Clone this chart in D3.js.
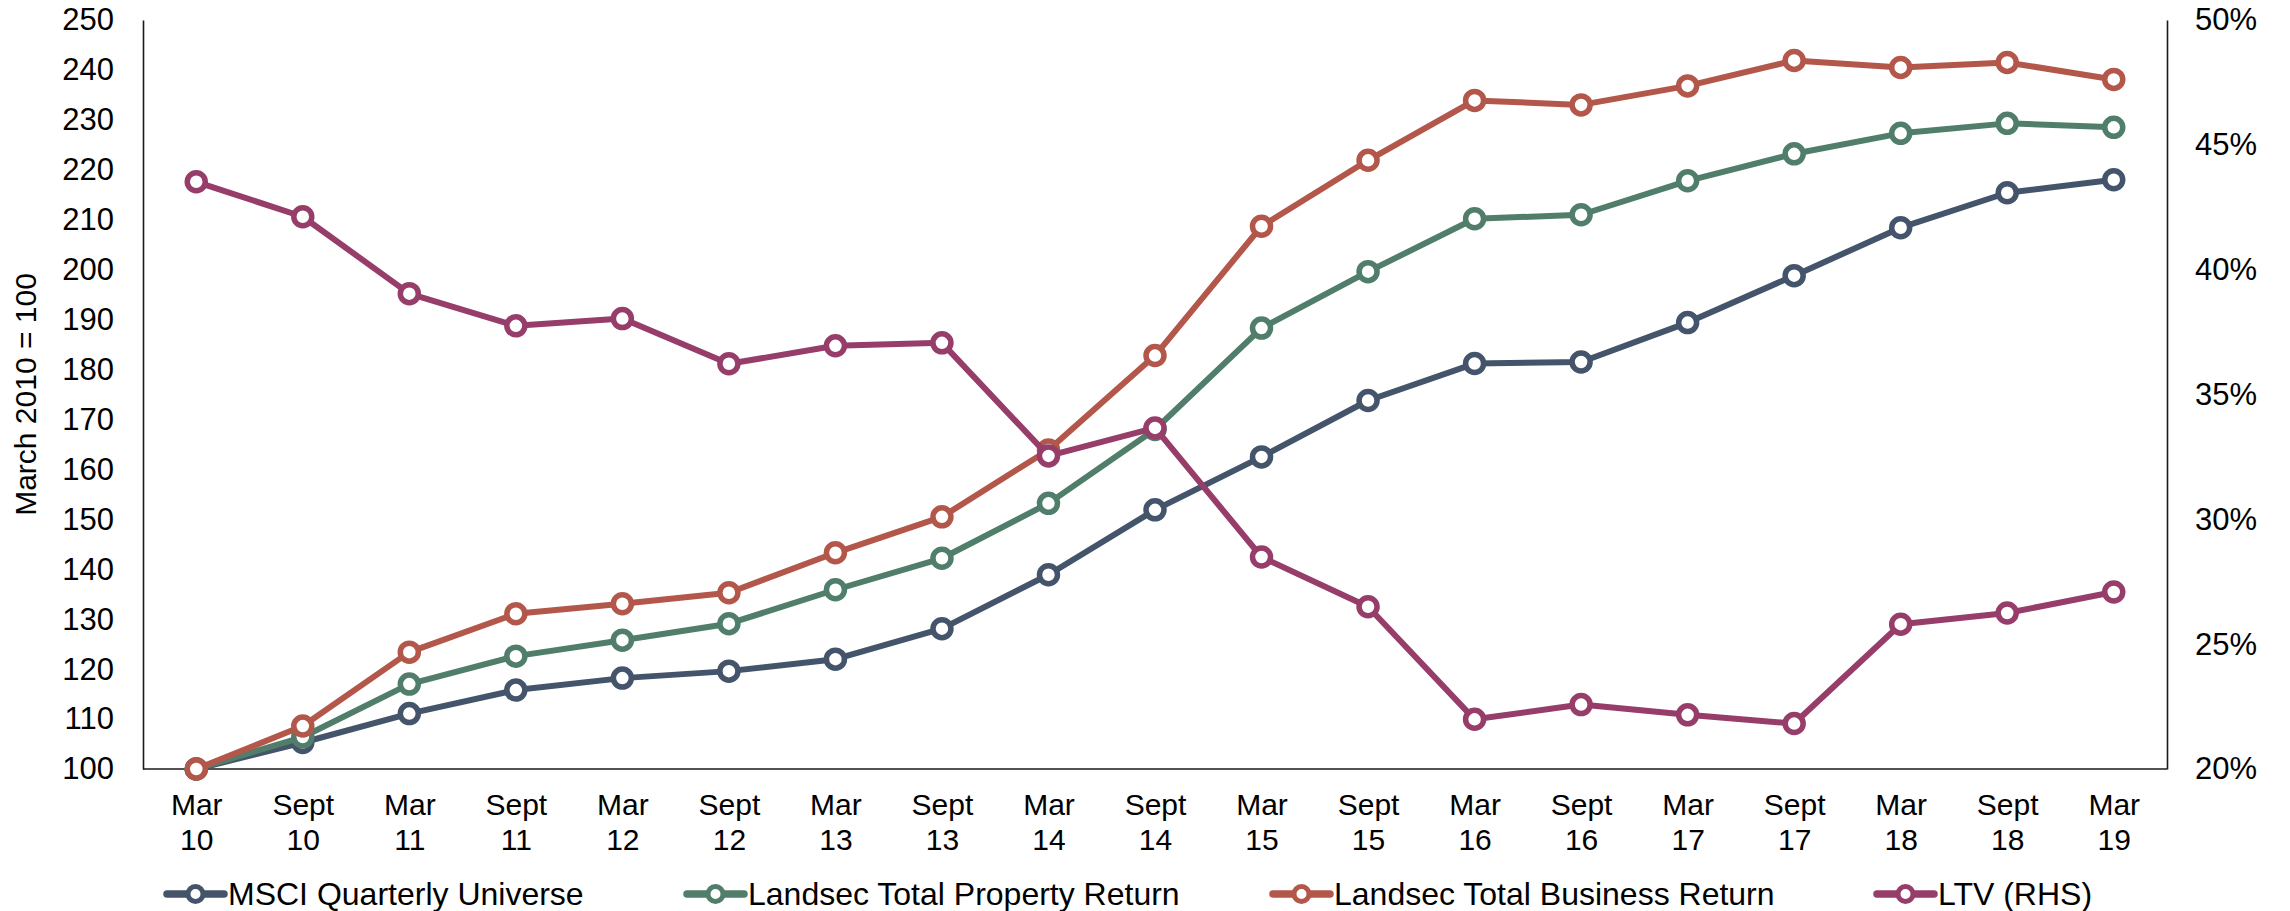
<!DOCTYPE html>
<html>
<head>
<meta charset="utf-8">
<script src="https://cdn.jsdelivr.net/npm/d3@7"></script>
<style>
  html, body { margin: 0; padding: 0; background: #fff; }
  svg { display: block; font-family: "Liberation Sans", Arial, sans-serif; }
</style>
</head>
<body>
<svg id="chart" width="2290" height="911"></svg>
<script>
// Half-yearly periods, March 2010 to March 2019
const periods = ["Mar 10","Sept 10","Mar 11","Sept 11","Mar 12","Sept 12","Mar 13","Sept 13","Mar 14",
  "Sept 14","Mar 15","Sept 15","Mar 16","Sept 16","Mar 17","Sept 17","Mar 18","Sept 18","Mar 19"];

// Index values (March 2010 = 100)
const msciUniverse = [100, 105.3, 111.1, 115.8, 118.2, 119.6, 122.0, 128.1, 138.9, 151.9,
  162.5, 173.8, 181.2, 181.5, 189.4, 198.8, 208.4, 215.4, 218.0];
const totalPropertyReturn = [100, 106.4, 117.0, 122.6, 125.8, 129.1, 135.9, 142.2, 153.2, 168.0,
  188.3, 199.6, 210.2, 211.0, 217.8, 223.2, 227.3, 229.3, 228.5];
const totalBusinessReturn = [100, 108.6, 123.4, 131.1, 133.1, 135.3, 143.3, 150.5, 163.9, 182.8,
  208.7, 221.9, 233.9, 233.0, 236.8, 241.9, 240.5, 241.5, 238.1];

// Loan-to-value ratio (right-hand scale)
const ltv = [0.4352, 0.4212, 0.3904, 0.3775, 0.3804, 0.3623, 0.3695, 0.3707, 0.3254, 0.3366,
  0.2849, 0.2650, 0.2199, 0.2258, 0.2217, 0.2182, 0.2580, 0.2625, 0.2709];

// Axis ticks
const leftTicks = [100, 110, 120, 130, 140, 150, 160, 170, 180, 190, 200, 210, 220, 230, 240, 250];
const rightTicks = [0.20, 0.25, 0.30, 0.35, 0.40, 0.45, 0.50];

const seriesNames = ["MSCI Quarterly Universe", "Landsec Total Property Return",
  "Landsec Total Business Return", "LTV (RHS)"];
const seriesColors = ["#44546a", "#507e6b", "#b3574b", "#963d6a"];

const series = [
  { name: seriesNames[0], color: seriesColors[0], values: msciUniverse, axis: "left" },
  { name: seriesNames[1], color: seriesColors[1], values: totalPropertyReturn, axis: "left" },
  { name: seriesNames[2], color: seriesColors[2], values: totalBusinessReturn, axis: "left" },
  { name: seriesNames[3], color: seriesColors[3], values: ltv, axis: "right" }
];

const svg = d3.select("#chart");
const plot = { left: 143, right: 2167, top: 20, bottom: 769 };

const x = d3.scalePoint().domain(periods).range([plot.left, plot.right]).padding(0.5);
const yLeft = d3.scaleLinear().domain([100, 250]).range([plot.bottom, plot.top]);
const yRight = d3.scaleLinear().domain([0.20, 0.50]).range([plot.bottom, plot.top]);

const axisColor = "#1a1a1a";
const fontFamily = "Liberation Sans, Arial, sans-serif";

// Left axis
const gLeft = svg.append("g")
  .attr("transform", `translate(${plot.left},0)`)
  .call(d3.axisLeft(yLeft).tickValues(leftTicks).tickSize(0).tickPadding(29).tickFormat(d3.format("d")));
gLeft.select(".domain").attr("stroke", axisColor).attr("stroke-width", 1.6);
gLeft.selectAll("text").attr("font-size", 31).attr("fill", "#000").attr("font-family", fontFamily);

// Right axis
const gRight = svg.append("g")
  .attr("transform", `translate(${plot.right},0)`)
  .call(d3.axisRight(yRight).tickValues(rightTicks).tickSize(0).tickPadding(28).tickFormat(d3.format(".0%")));
gRight.select(".domain").attr("stroke", axisColor).attr("stroke-width", 1.6);
gRight.selectAll("text").attr("font-size", 31).attr("fill", "#000").attr("font-family", fontFamily);

// Bottom axis with two-line period labels
const gBottom = svg.append("g")
  .attr("transform", `translate(0,${plot.bottom})`)
  .call(d3.axisBottom(x).tickSize(0).tickSizeOuter(0));
gBottom.select(".domain").attr("stroke", axisColor).attr("stroke-width", 1.6)
  .attr("d", `M${plot.left},0H${plot.right}`);
gBottom.selectAll(".tick text")
  .attr("font-size", 30).attr("fill", "#000").attr("font-family", fontFamily)
  .attr("y", 0).attr("dy", null)
  .each(function (d) {
    const parts = d.split(" ");
    const t = d3.select(this).text(null);
    t.append("tspan").attr("x", 0).attr("y", 46).text(parts[0]);
    t.append("tspan").attr("x", 0).attr("y", 81).text(parts[1]);
  });

// Y-axis title
svg.append("text")
  .attr("transform", `translate(36,${(plot.top + plot.bottom) / 2}) rotate(-90)`)
  .attr("text-anchor", "middle")
  .attr("font-size", 30)
  .attr("fill", "#000")
  .text("March 2010 = 100");

// Lines and markers
const lineWidth = 6;
const markerR = 9;
const markerStroke = 5.5;

series.forEach(s => {
  const yScale = s.axis === "left" ? yLeft : yRight;
  const line = d3.line()
    .x((d, i) => x(periods[i]))
    .y(d => yScale(d));
  const g = svg.append("g");
  g.append("path")
    .datum(s.values)
    .attr("fill", "none")
    .attr("stroke", s.color)
    .attr("stroke-width", lineWidth)
    .attr("stroke-linejoin", "round")
    .attr("d", line);
  g.selectAll("circle")
    .data(s.values)
    .join("circle")
    .attr("cx", (d, i) => x(periods[i]))
    .attr("cy", d => yScale(d))
    .attr("r", markerR)
    .attr("fill", "#fff")
    .attr("stroke", s.color)
    .attr("stroke-width", markerStroke);
});

// Legend
const legendY = 894;
const legendX = [167, 687, 1273, 1877];
const legend = svg.append("g");
series.forEach((s, i) => {
  const g = legend.append("g").attr("transform", `translate(${legendX[i]},${legendY})`);
  g.append("line")
    .attr("x1", 0).attr("x2", 57).attr("y1", 0).attr("y2", 0)
    .attr("stroke", s.color).attr("stroke-width", 7.5).attr("stroke-linecap", "round");
  g.append("circle")
    .attr("cx", 28.5).attr("cy", 0).attr("r", 7.5)
    .attr("fill", "#fff").attr("stroke", s.color).attr("stroke-width", 5);
  g.append("text")
    .attr("x", 61).attr("y", 11)
    .attr("font-size", 32).attr("fill", "#000")
    .text(s.name);
});
</script>
</body>
</html>
